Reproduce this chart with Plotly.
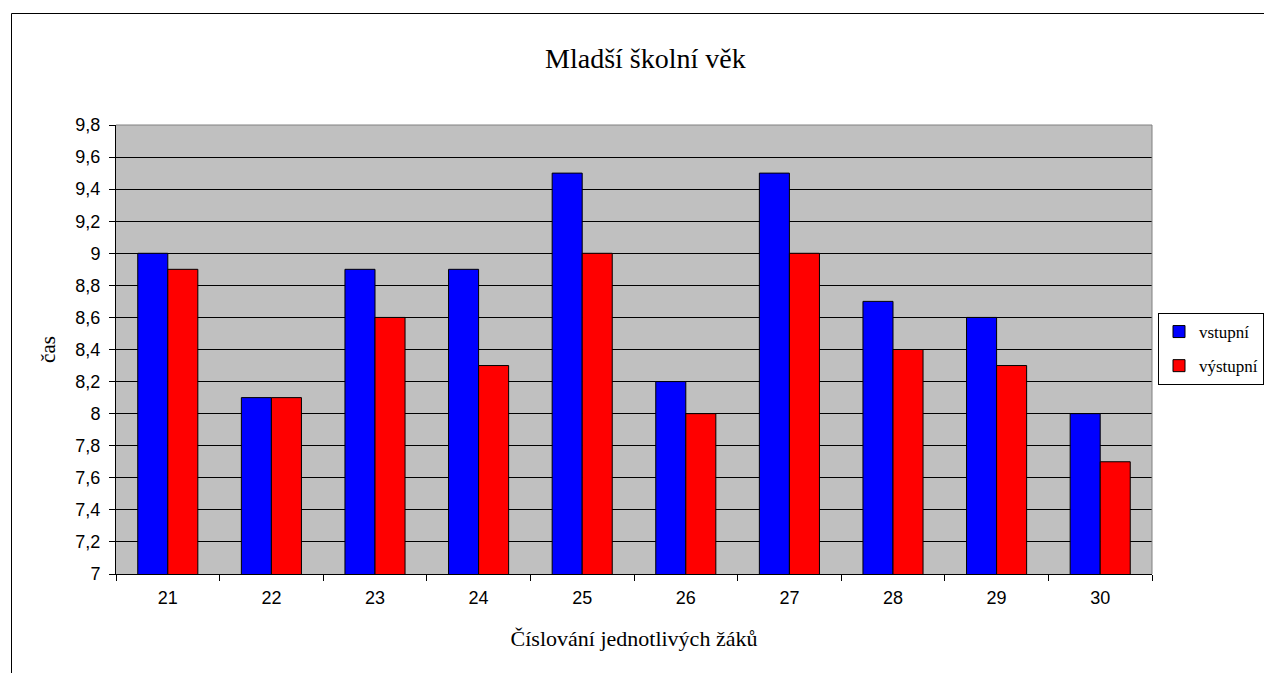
import plotly.graph_objects as go

categories = ["21", "22", "23", "24", "25", "26", "27", "28", "29", "30"]
vstupni = [9.0, 8.1, 8.9, 8.9, 9.5, 8.2, 9.5, 8.7, 8.6, 8.0]
vystupni = [8.9, 8.1, 8.6, 8.3, 9.0, 8.0, 9.0, 8.4, 8.3, 7.7]

W, H = 1264, 673
L, R, T, B = 116, 1152, 125, 574
pw, ph = R - L, B - T

def px(x):
    return (x - L) / pw

def py(y):
    return 1 - (y - T) / ph

serif = "Liberation Serif, Times New Roman, serif"
sans = "Liberation Sans, Arial, sans-serif"

fig = go.Figure()
fig.add_trace(go.Bar(x=categories, y=vstupni, name="vstupní", legendgroup="a",
                     marker=dict(color="#0000FF", line=dict(color="black", width=1))))
fig.add_trace(go.Bar(x=categories, y=vystupni, name="výstupní", legendgroup="b",
                     marker=dict(color="#FF0000", line=dict(color="black", width=1))))

fig.update_layout(
    width=W, height=H,
    margin=dict(l=L, r=W - R, t=T, b=H - B, autoexpand=False),
    paper_bgcolor="white",
    plot_bgcolor="#C0C0C0",
    separators=", ",
    barmode="group",
    bargap=0.42,
    bargroupgap=0,
    title=dict(text="Mladší školní věk", x=px(645), xanchor="center",
               y=1 - 58 / H, yanchor="middle",
               font=dict(family=serif, size=28, color="black")),
    showlegend=True,
    legend=dict(x=px(1158), y=py(313), xanchor="left", yanchor="top",
                bgcolor="white", bordercolor="black", borderwidth=1,
                font=dict(family=serif, size=17, color="black"),
                itemwidth=30, tracegroupgap=9, traceorder="grouped"),
    xaxis=dict(
        type="category",
        tickson="boundaries",
        ticks="outside", ticklen=6, tickcolor="black",
        showline=True, linecolor="black", linewidth=1,
        showgrid=False,
        ticklabelstandoff=7,
        tickfont=dict(family=sans, size=18, color="black"),
        title=dict(text="Číslování jednotlivých žáků", standoff=24,
                   font=dict(family=serif, size=22, color="black")),
    ),
    yaxis=dict(
        range=[7, 9.8], dtick=0.2, tick0=7,
        ticks="outside", ticklen=6, tickcolor="black",
        showline=True, linecolor="black", linewidth=1,
        showgrid=True, gridcolor="black", gridwidth=1,
        zeroline=False,
        ticklabelstandoff=5,
        tickfont=dict(family=sans, size=18, color="black"),
        title=dict(text="čas", standoff=14,
                   font=dict(family=serif, size=21, color="black")),
    ),
    shapes=[
        dict(type="line", xref="paper", yref="paper", x0=0, x1=1, y0=1, y1=1,
             line=dict(color="#808080", width=1)),
        dict(type="line", xref="paper", yref="paper", x0=1, x1=1, y0=0, y1=1,
             line=dict(color="#808080", width=1)),
        dict(type="rect", xref="paper", yref="paper",
             x0=px(11.5), x1=px(1280), y0=py(13.5), y1=py(700),
             line=dict(color="black", width=1), fillcolor="rgba(0,0,0,0)",
             layer="above"),
    ],
)

fig.write_html("out.html", config={"displayModeBar": False},
               post_script="document.body.style.margin='0';document.body.style.padding='0';document.body.style.overflow='hidden';")
